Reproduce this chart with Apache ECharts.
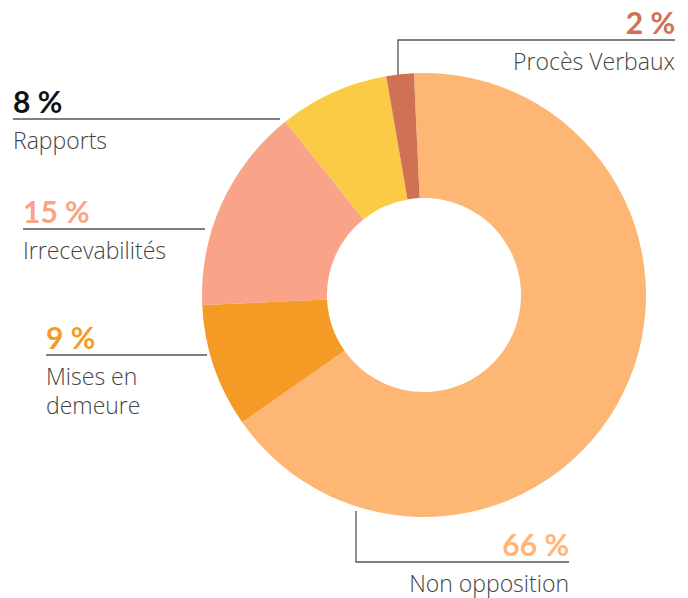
<!DOCTYPE html>
<html>
<head>
<meta charset="utf-8">
<script src="https://cdn.jsdelivr.net/npm/echarts@6/dist/echarts.min.js"></script>
<style>
  html, body { margin: 0; padding: 0; background: #fff; }
  #chart { width: 688px; height: 598px; }
</style>
</head>
<body>
<div id="chart"></div>
<script>
// données (%), dans le sens horaire depuis le haut
const categories = ['Non opposition', 'Mises en\ndemeure', 'Irrecevabilités', 'Rapports', 'Procès Verbaux']
const values = [66, 9, 15, 8, 2]

const sliceColors = ['#fdb673', '#f59b25', '#f9a388', '#fccb45', '#cf7253']
const pctColors = ['#fdb673', '#f59b25', '#f9a388', '#111111', '#cf7253']

// placement des étiquettes (ligne de rappel)
const labelPos = [
  { side: 'right', lineY: 562, x0: 356, y0: 511, x1: 569 },
  { side: 'left', lineY: 355, x0: 207, x1: 46 },
  { side: 'left', lineY: 229, x0: 205, x1: 23 },
  { side: 'left', lineY: 119, x0: 280, x1: 13 },
  { side: 'right', lineY: 40, x0: 398, y0: 76, x1: 675 }
]

const chart = echarts.init(document.getElementById('chart'), null, { renderer: 'svg' })

chart.setOption({
  animation: false,
  series: [
    {
      type: 'pie',
      center: [424, 295],
      radius: [97, 222],
      startAngle: 92.6,
      clockwise: true,
      avoidLabelOverlap: false,
      emphasis: { disabled: true },
      itemStyle: { borderWidth: 0 },
      data: categories.map((name, i) => ({
        name,
        value: values[i],
        itemStyle: { color: sliceColors[i] },
        label: {
          rich: {
            p: { color: pctColors[i] }
          }
        }
      })),
      label: {
        show: true,
        position: 'outside',
        formatter: (p) => '{p|' + p.value + ' %}\n{n|' + p.name.split('\n').join('}\n{n|') + '}',
        rich: {
          p: {
            fontFamily: 'Lato',
            fontWeight: 'bold',
            fontSize: 30,
            lineHeight: 48
          },
          n: {
            fontFamily: 'Open Sans',
            fontWeight: 300,
            fontSize: 23,
            lineHeight: 29,
            color: '#444'
          }
        }
      },
      labelLine: {
        show: true,
        lineStyle: { color: '#555', width: 1.3 }
      },
      labelLayout: (params) => {
        const c = labelPos[params.dataIndex]
        const y = c.lineY - 42
        if (c.side === 'left') {
          return {
            x: c.x1,
            y,
            align: 'left',
            verticalAlign: 'top',
            labelLinePoints: [[c.x0, c.lineY], [(c.x0 + c.x1) / 2, c.lineY], [c.x1, c.lineY]]
          }
        }
        return {
          x: c.x1,
          y,
          align: 'right',
          verticalAlign: 'top',
          labelLinePoints: [[c.x0, c.y0], [c.x0, c.lineY], [c.x1, c.lineY]]
        }
      }
    }
  ]
})
</script>
</body>
</html>
